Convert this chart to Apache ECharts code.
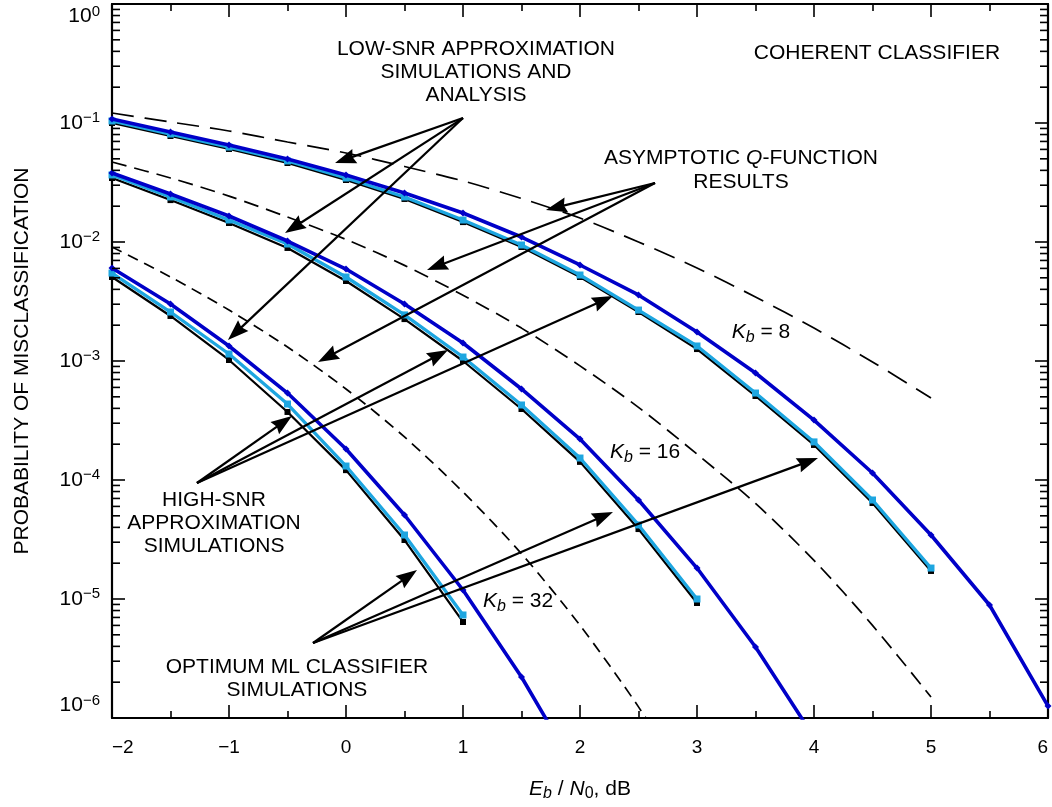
<!DOCTYPE html>
<html>
<head>
<meta charset="utf-8">
<script src="https://cdn.jsdelivr.net/npm/echarts@6/dist/echarts.min.js"></script>
<style>html,body{margin:0;padding:0;background:#fff}#c{width:1052px;height:807px}</style>
</head>
<body>
<div id="c"></div>
<script>
// ---------- data ----------
const ebn0 = [-2,-1.5,-1,-0.5,0,0.5,1,1.5,2,2.5,3,3.5,4,4.5,5,5.5,6];

// K_b = 8
const lowSnrK8  = [0.108,0.0840,0.0653,0.0498,0.0365,0.0258,0.01754,0.01101,0.00641,0.00359,0.00175,7.93e-4,3.19e-4,1.145e-4,3.45e-5,8.9e-6,1.26e-6];
const highSnrK8 = [0.104,0.0808,0.0628,0.0480,0.0345,0.0239,0.0153,0.00944,0.00528,0.00268,0.001337,5.38e-4,2.09e-4,6.79e-5,1.82e-5];
const optMlK8   = [0.100,0.0778,0.0605,0.0461,0.0332,0.0230,0.0147,0.00908,0.00508,0.00258,0.00126,5.08e-4,1.97e-4,6.41e-5,1.72e-5];
const qfuncK8   = [0.1213,0.1019,0.0857,0.0692,0.0560,0.0431,0.0326,0.0232,0.0159,0.0100,0.00605,0.00345,0.00189,9.81e-4,4.89e-4];
// K_b = 16
const lowSnrK16  = [0.0380,0.0253,0.01653,0.01019,0.00593,0.00301,0.001416,5.82e-4,2.21e-4,6.79e-5,1.82e-5,3.95e-6,6.9e-7];
const highSnrK16 = [0.0366,0.0239,0.01531,0.00962,0.00508,0.00244,0.00108,4.27e-4,1.53e-4,4.19e-5,1.0e-5];
const optMlK16   = [0.0345,0.0225,0.01445,0.00891,0.00470,0.00225,1.0e-3,3.95e-4,1.42e-4,3.87e-5,9.25e-6];
const qfuncK16   = [0.0470,0.0345,0.0243,0.0162,0.01050,0.00636,0.00357,0.00189,9.1e-4,4.08e-4,1.65e-4,6.35e-5,2.11e-5,6.0e-6,1.50e-6];
// K_b = 32
const lowSnrK32  = [0.00605,0.00301,0.001337,5.38e-4,1.82e-4,5.08e-5,1.19e-5,2.21e-6,3.2e-7];
const highSnrK32 = [0.00548,0.00258,0.001145,4.35e-4,1.31e-4,3.45e-5,7.34e-6];
const optMlK32   = [0.00508,0.00239,0.00102,3.73e-4,1.21e-4,3.13e-5,6.41e-6];
const qfuncK32   = [0.00908,0.00508,0.00268,0.00131,5.82e-4,2.30e-4,7.93e-5,2.40e-5,6.0e-6,1.24e-6,2.1e-7];

// log-axis minor tick values (m x 10^k)
const minorMantissas = [2,3,4,5,6,7,8,9];
const decades = [-6,-5,-4,-3,-2,-1];

// annotation anchors in data units [Eb/N0, probability]
const noteTexts = [
  'LOW-SNR APPROXIMATION\nSIMULATIONS AND\nANALYSIS',
  'COHERENT CLASSIFIER',
  'ASYMPTOTIC {i|Q}-FUNCTION\nRESULTS',
  'HIGH-SNR\nAPPROXIMATION\nSIMULATIONS',
  'OPTIMUM ML CLASSIFIER\nSIMULATIONS'
];
const noteAnchors = [[1.111,0.268],[4.538,0.388],[3.376,0.0403],[-1.128,4.35e-5],[-0.419,2.13e-6]];
const kbValues = ['8','16','32'];
const kbAnchors = [[3.547,1.75e-3],[2.556,1.72e-4],[1.470,9.6e-6]];
const arrowFrom = [[1.0,0.110],[2.641,0.0313],[-1.274,9.44e-5],[-0.282,4.27e-6]];
const arrowTo = [
  [[-0.094,0.0461],[-0.521,0.0119],[-1.009,0.0015]],
  [[1.709,0.0186],[0.692,0.00582],[-0.239,9.8e-4]],
  [[-0.462,3.45e-4],[0.872,0.001237],[2.282,0.00352]],
  [[0.607,1.75e-5],[2.282,5.38e-5],[4.034,1.53e-4]]
];

// ---------- chart ----------
const FONT = '"Liberation Sans", Arial, Helvetica, sans-serif';
const DARK = '#0000c8';
const LIGHT = '#1ea6e0';

function pts(ys){ return ys.map((y,i)=>[ebn0[i], y]); }

function lowSeries(ys){ return {type:'line', data:pts(ys), z:4, symbol:'diamond', symbolSize:7, showAllSymbol:true,
  lineStyle:{color:DARK,width:3.6}, itemStyle:{color:DARK}, clip:true}; }
function highSeries(ys){ return {type:'line', data:pts(ys), z:3, symbol:'rect', symbolSize:7, showAllSymbol:true,
  lineStyle:{color:LIGHT,width:3.3}, itemStyle:{color:LIGHT}, clip:true}; }
function optSeries(ys){ return {type:'line', data:pts(ys), z:2, symbol:'rect', symbolSize:6, showAllSymbol:true,
  lineStyle:{color:'#000',width:2.2}, itemStyle:{color:'#000'}, clip:true}; }
function qSeries(ys, dash){ return {type:'line', data:pts(ys), z:1, symbol:'none', smooth:0.3,
  lineStyle:{color:'#000',width:1.7,type:dash}, clip:true}; }

const minorVals = [];
decades.forEach(d=>minorMantissas.forEach(m=>minorVals.push(m*Math.pow(10,d))));

const sharedTick = {show:true, inside:true, length:13, lineStyle:{color:'#000',width:1.6}};
const axisLineStyle = {show:true, onZero:false, lineStyle:{color:'#000',width:2.2}};

function supLabel(v){
  const e = Math.round(Math.log10(v));
  return '{b|10}{s|' + (e < 0 ? '\u2212' + (-e) : String(e)) + '}';
}

const chart = echarts.init(document.getElementById('c'), null, {renderer:'canvas'});
const option = {
  animation:false,
  backgroundColor:'#fff',
  grid:{left:112, right:4, top:4, bottom:89, containLabel:false},
  xAxis:[{
    type:'value', min:-2, max:6, interval:1, position:'bottom',
    axisLine:axisLineStyle, axisTick:sharedTick,
    minorTick:{show:true, splitNumber:2, length:7, lineStyle:{color:'#000',width:1.6}},
    splitLine:{show:false},
    axisLabel:{fontFamily:FONT, fontSize:19, color:'#000', margin:20, alignMinLabel:'left', alignMaxLabel:'right',
      formatter:v=> v<0 ? '\u2212'+(-v) : String(v)},
    name:'{i|E}{isub|b} / {i|N}{sub|0}, dB', nameLocation:'middle', nameGap:58,
    nameTextStyle:{fontFamily:FONT, fontSize:21, color:'#000',
      rich:{i:{fontFamily:FONT,fontSize:21,fontStyle:'italic',color:'#000'},
            t:{fontFamily:FONT,fontSize:21,color:'#000'},
            isub:{fontFamily:FONT,fontSize:16,fontStyle:'italic',color:'#000',verticalAlign:'top',padding:[10,0,0,0]},
            sub:{fontFamily:FONT,fontSize:16,color:'#000',verticalAlign:'top',padding:[10,0,0,0]}}}
  },{
    type:'value', min:-2, max:6, interval:1, position:'top',
    axisLine:axisLineStyle, axisTick:sharedTick,
    minorTick:{show:true, splitNumber:2, length:7, lineStyle:{color:'#000',width:1.6}},
    splitLine:{show:false}, axisLabel:{show:false}
  }],
  yAxis:[{
    type:'log', logBase:10, min:1e-6, max:1, splitNumber:6,
    axisLine:axisLineStyle, axisTick:sharedTick, minorTick:{show:false}, splitLine:{show:false},
    axisLabel:{formatter:supLabel, margin:12, verticalAlignMaxLabel:'top', verticalAlignMinLabel:'bottom',
      rich:{b:{fontFamily:FONT,fontSize:21,color:'#000'},
            s:{fontFamily:FONT,fontSize:15,color:'#000',verticalAlign:'bottom',padding:[0,0,10,0]}}},
    name:'PROBABILITY OF MISCLASSIFICATION', nameLocation:'middle', nameGap:79,
    nameTextStyle:{fontFamily:FONT,fontSize:21,color:'#000'}
  },{
    type:'log', logBase:10, min:1e-6, max:1, splitNumber:6, position:'right',
    axisLine:axisLineStyle, axisTick:sharedTick, minorTick:{show:false}, splitLine:{show:false},
    axisLabel:{show:false}
  }],
  series:[
    qSeries(qfuncK8,[22,11]), qSeries(qfuncK16,[15,8]), qSeries(qfuncK32,[11,7]),
    optSeries(optMlK8), optSeries(optMlK16), optSeries(optMlK32),
    highSeries(highSnrK8), highSeries(highSnrK16), highSeries(highSnrK32),
    lowSeries(lowSnrK8), lowSeries(lowSnrK16), lowSeries(lowSnrK32),
    {type:'custom', coordinateSystem:'cartesian2d', xAxisIndex:0, yAxisIndex:0, silent:true, z:6, clip:false,
     data:minorVals.map(v=>[-2,v]),
     renderItem:(p, api)=>{
       const v = api.value(1);
       const a = api.coord([-2, v]);
       const b = api.coord([6, v]);
       return {type:'group', children:[
         {type:'line', shape:{x1:a[0], y1:a[1], x2:a[0]+8, y2:a[1]}, style:{stroke:'#000', lineWidth:1.6}},
         {type:'line', shape:{x1:b[0]-8, y1:b[1], x2:b[0], y2:b[1]}, style:{stroke:'#000', lineWidth:1.6}}
       ]};
     }}
  ]
};
chart.setOption(option);

// ---------- annotations (anchored in data units) ----------
function toPx(p){ return chart.convertToPixel({xAxisIndex:0, yAxisIndex:0}, p); }
const graphics = [];
const textRich = {i:{fontFamily:FONT,fontSize:21,fontStyle:'italic',fill:'#000',lineHeight:24}};
noteTexts.forEach((t,i)=>{
  const p = toPx(noteAnchors[i]);
  graphics.push({type:'text', x:p[0], y:p[1], z:20, silent:true,
    style:{text:t, fill:'#000', font:'21px ' + FONT, align:'center', verticalAlign:'middle', lineHeight:23, rich:textRich}});
});
kbValues.forEach((k,i)=>{
  const p = toPx(kbAnchors[i]);
  graphics.push({type:'text', x:p[0], y:p[1], z:20, silent:true,
    style:{text:'{i|K}{s|b}{n| = ' + k + '}', align:'center', verticalAlign:'middle',
      rich:{i:{fontFamily:FONT,fontSize:21,fontStyle:'italic',fill:'#000'},
            s:{fontFamily:FONT,fontSize:16,fontStyle:'italic',fill:'#000',verticalAlign:'top',padding:[11,0,0,0]},
            n:{fontFamily:FONT,fontSize:21,fill:'#000'}}}});
});
const HEAD_L = 21, HEAD_W = 7.5;
arrowFrom.forEach((f,gi)=>{
  const a = toPx(f);
  arrowTo[gi].forEach(t=>{
    const b = toPx(t);
    const dx = b[0]-a[0], dy = b[1]-a[1], len = Math.hypot(dx,dy);
    const ux = dx/len, uy = dy/len, nx = -uy, ny = ux;
    const bx = b[0]-ux*HEAD_L, by = b[1]-uy*HEAD_L;
    graphics.push({type:'line', z:15, silent:true, shape:{x1:a[0], y1:a[1], x2:bx+ux*4, y2:by+uy*4},
      style:{stroke:'#000', lineWidth:2.2}});
    graphics.push({type:'polygon', z:15, silent:true,
      shape:{points:[[b[0],b[1]],[bx+nx*HEAD_W,by+ny*HEAD_W],[bx+ux*2.5,by+uy*2.5],[bx-nx*HEAD_W,by-ny*HEAD_W]]},
      style:{fill:'#000'}});
  });
});
chart.setOption({graphic:graphics});
</script>
</body>
</html>
